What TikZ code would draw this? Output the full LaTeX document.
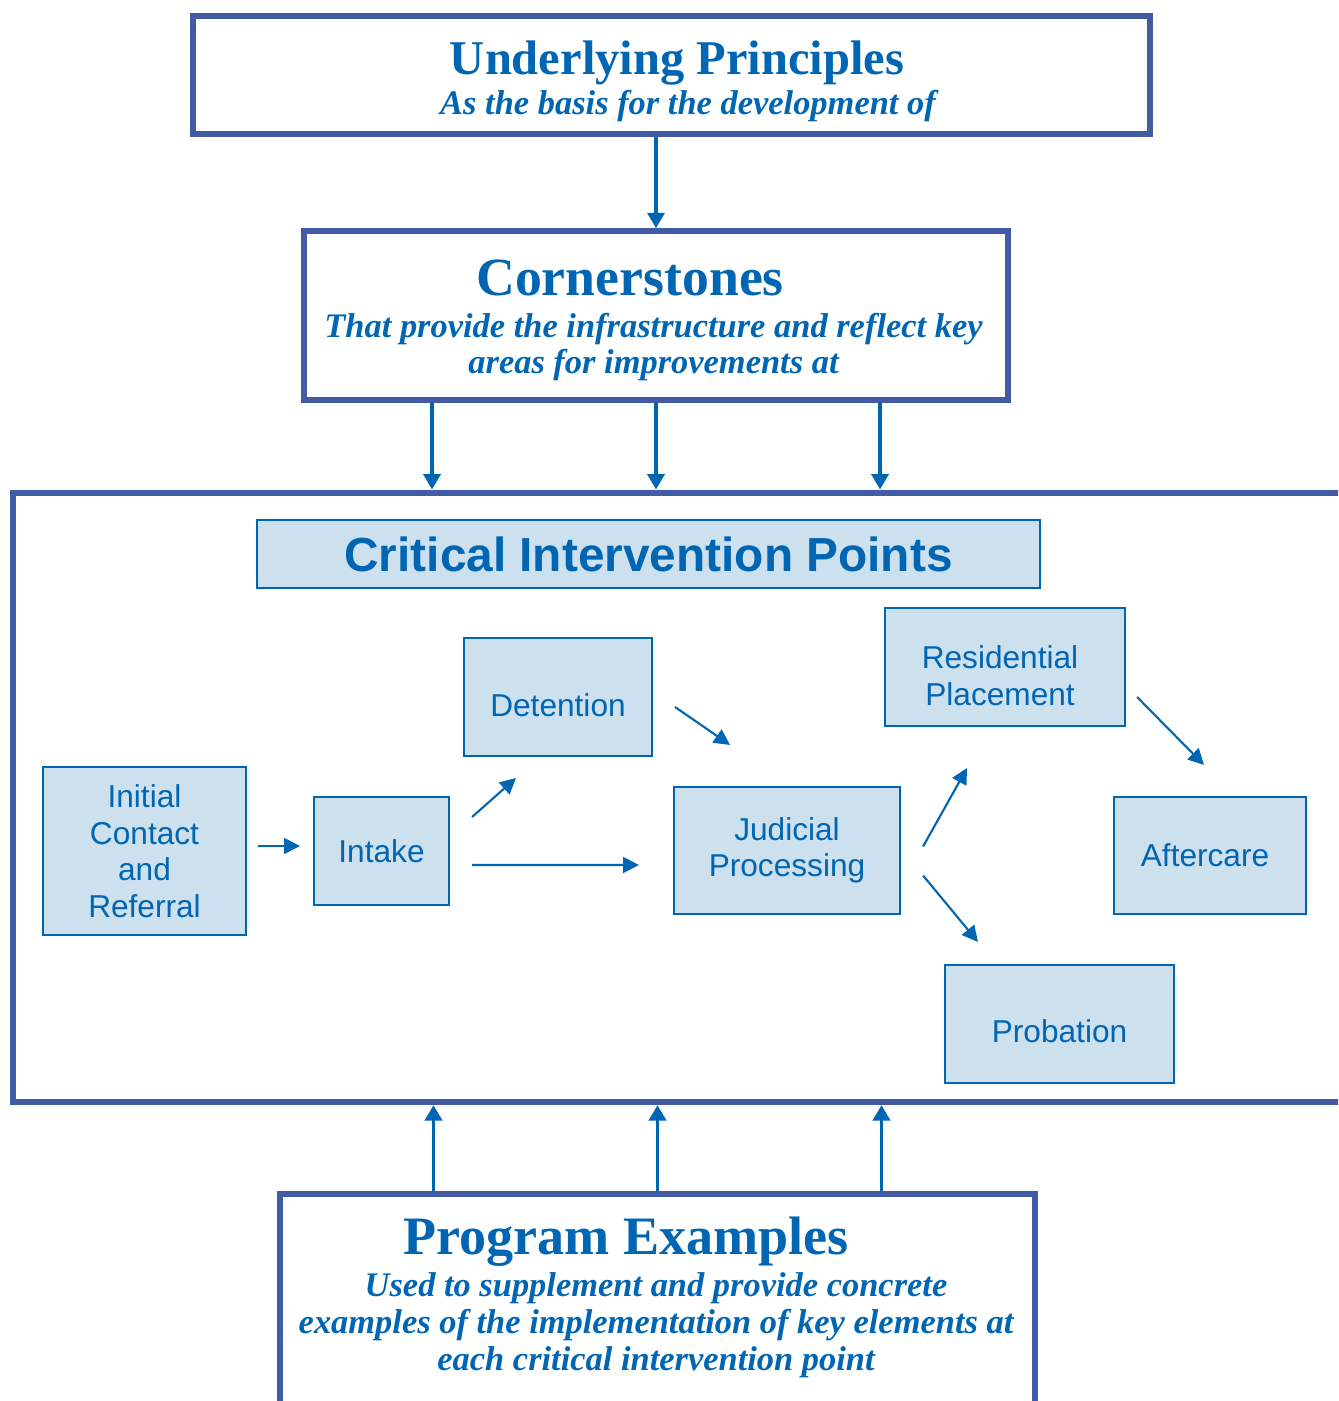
\documentclass[tikz,border=0pt]{standalone}
\usepackage{fontspec}
\setmainfont{Liberation Serif}
\setsansfont{Liberation Sans}
\usepackage{tikz}
\usetikzlibrary{positioning,calc,arrows.meta}
\definecolor{CIPBlue}{RGB}{0,102,179}
\definecolor{FrameBlue}{RGB}{67,91,165}
\definecolor{CIPFill}{RGB}{204,224,238}

\begin{document}
\begin{tikzpicture}[x=1cm, y=-1cm,
                % styles for boxes
                bigbox/.style={draw=FrameBlue, line width=1.7pt, inner sep=0pt},
                pointbox/.style={draw=CIPBlue, fill=CIPFill, line width=0.6pt, text=CIPBlue, font=\sffamily\fontsize{9}{10.4}\selectfont, align=center, inner sep=0pt},
                % styles for text
                bigtitle/.style={text=CIPBlue, font=\bfseries\fontsize{13.8}{16}\selectfont, anchor=base, inner sep=0pt},
                subtitle/.style={text=CIPBlue, font=\bfseries\itshape\fontsize{9.8}{10.4}\selectfont, align=center, anchor=base, inner sep=0pt},
                % styles for arrows
                bigarrow/.style={-{Triangle[length=4.4pt, width=4.8pt]}, draw=CIPBlue, line width=1.1pt},
                flow/.style={-{Triangle[length=4.5pt, width=4.5pt]}, draw=CIPBlue, line width=0.6pt}
            ]
                \useasboundingbox (0,0) rectangle (13.38,14.01);
                \clip (0,0) rectangle (13.38,14.01);

                % --- TOP BOXES ---
                \node[bigbox, minimum width=9.57cm, minimum height=1.185cm] (principles) at (6.715,0.748) {};
                \node[bigtitle] (principlesTitle) at (6.77,0.75) {Underlying Principles};
                \node[subtitle] (principlesSub) at (6.88,1.15) {As the basis for the development of};

                \node[bigbox, minimum width=7.04cm, minimum height=1.685cm] (corner) at (6.56,3.155) {};
                \node[bigtitle, font=\bfseries\fontsize{15.3}{17}\selectfont] (cornerTitle) at (6.30,2.96) {Cornerstones};
                % base of a two-line node is its last line
                \node[subtitle] (cornerSub) at (6.535,3.74) {That provide the infrastructure and reflect key\\areas for improvements at};

                % --- CRITICAL INTERVENTION POINTS ---
                \node[bigbox, minimum width=13.47cm, minimum height=6.095cm] (outer) at (6.865,7.973) {};
                \node[pointbox, minimum width=7.83cm, minimum height=0.68cm, font=\sffamily\bfseries\fontsize{13.6}{15}\selectfont] (cipHead) at (6.485,5.54) {Critical Intervention Points};

                \node[pointbox, minimum width=2.03cm, minimum height=1.68cm] (initial) at (1.445,8.51) {Initial\\Contact\\and\\Referral};
                \node[pointbox, minimum width=1.35cm, minimum height=1.08cm] (intake) at (3.815,8.51) {Intake};
                \node[pointbox, minimum width=1.88cm, minimum height=1.18cm, text height=0.39cm, text depth=0cm] (detention) at (5.58,6.97) {Detention};
                \node[pointbox, minimum width=2.26cm, minimum height=1.27cm] (judicial) at (7.87,8.505) {Judicial\\Processing};
                \node[pointbox, minimum width=2.40cm, minimum height=1.18cm, text height=0.84cm, text depth=0.07cm] (residential) at (10.05,6.67) {Residential\hspace*{0.1cm}\\Placement\hspace*{0.1cm}};
                \node[pointbox, minimum width=1.92cm, minimum height=1.17cm] (aftercare) at (12.10,8.555) {Aftercare\hspace*{0.1cm}};
                \node[pointbox, minimum width=2.29cm, minimum height=1.18cm, text height=0.37cm, text depth=0cm] (probation) at (10.595,10.24) {Probation};

                % --- BOTTOM BOX ---
                \node[bigbox, minimum width=7.55cm, minimum height=3cm, anchor=north] (program) at (6.575,11.91) {};
                \node[bigtitle, font=\bfseries\fontsize{15.4}{17}\selectfont] (programTitle) at (6.26,12.54) {Program Examples};
                \node[subtitle] (programSub) at (6.56,13.70) {Used to supplement and provide concrete\\examples of the implementation of key elements at\\each critical intervention point};

                % --- BIG ARROWS ---
                \draw[bigarrow] (principles.south -| corner.north) -- (corner.north);
                \foreach \dx [count=\i] in {-2.24,0,2.24} {
                    \coordinate (cs\i) at ([xshift=\dx cm]corner.south);
                    \coordinate (pe\i) at ([xshift=\dx cm]program.north);
                    \draw[bigarrow] (cs\i) -- (cs\i |- outer.north);
                    \draw[bigarrow] (pe\i) -- (pe\i |- outer.south);
                }

                % --- FLOW ARROWS ---
                \draw[flow] ([shift={(0.11,-0.05)}]initial.east) -- ([shift={(-0.13,-0.05)}]intake.west);
                \draw[flow] ([shift={(0.22,-0.34)}]intake.east) -- ([shift={(-0.42,0.21)}]detention.south);
                \draw[flow] ([shift={(0.22,0.14)}]intake.east) -- ([shift={(-0.34,0.145)}]judicial.west);
                \draw[flow] ([shift={(0.22,0.10)}]detention.east) -- ([shift={(-0.57,-0.41)}]judicial.north);
                \draw[flow] ([shift={(0.22,-0.04)}]judicial.east) -- ([shift={(-0.38,0.41)}]residential.south);
                \draw[flow] ([shift={(0.22,0.25)}]judicial.east) -- ([shift={(-0.815,-0.22)}]probation.north);
                \draw[flow] ([shift={(0.11,0.30)}]residential.east) -- ([shift={(-0.06,-0.31)}]aftercare.north);

            \end{tikzpicture}
\end{document}
